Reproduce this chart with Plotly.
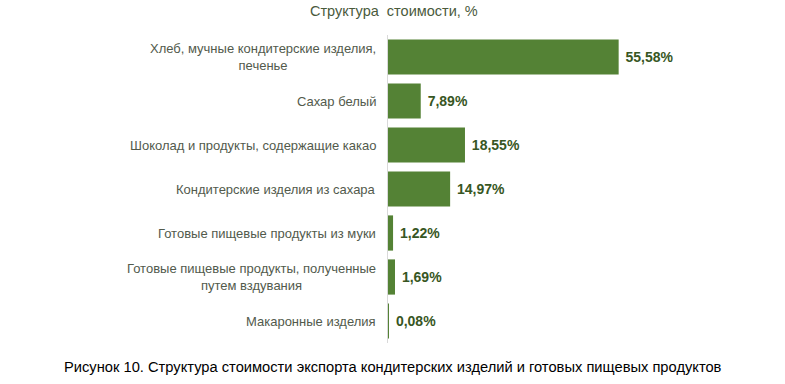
import plotly.graph_objects as go

categories = [
    "Хлеб, мучные кондитерские изделия,<br>печенье",
    "Сахар белый",
    "Шоколад и продукты, содержащие какао",
    "Кондитерские изделия из сахара",
    "Готовые пищевые продукты из муки",
    "Готовые пищевые продукты, полученные<br>путем вздувания",
    "Макаронные изделия",
]
values = [55.58, 7.89, 18.55, 14.97, 1.22, 1.69, 0.08]
value_labels = ["55,58%", "7,89%", "18,55%", "14,97%", "1,22%", "1,69%", "0,08%"]

title_text = "Структура  стоимости, %"
caption_text = "Рисунок 10. Структура стоимости экспорта кондитерских изделий и готовых пищевых продуктов"

W, H = 785, 384
ml, mr, mt, mb = 388, 65, 35, 41
pw, ph = W - ml - mr, H - mt - mb

fig = go.Figure()
fig.add_trace(go.Bar(
    y=categories,
    x=values,
    orientation="h",
    marker=dict(color="#548235", line=dict(width=0)),
    text=value_labels,
    textposition="outside",
    textfont=dict(family="Liberation Sans, Arial", size=14, color="#375623"),
    texttemplate="<b> %{text}</b>",
    cliponaxis=False,
    hoverinfo="skip",
))

annotations = []
for c in categories:
    annotations.append(dict(
        x=0, xref="paper", y=c, yref="y",
        text=c, showarrow=False, xanchor="right", yanchor="middle",
        align="center", xshift=-10,
        font=dict(family="Liberation Sans, Arial", size=13, color="#525a4c"),
    ))
annotations.append(dict(
    x=(394 - ml) / pw, xref="paper", y=1 + (mt - 11) / ph, yref="paper",
    xanchor="center", yanchor="middle",
    text=title_text, showarrow=False,
    font=dict(family="Liberation Sans, Arial", size=14.5, color="#4a5a3c"),
))
annotations.append(dict(
    x=(393 - ml) / pw, xref="paper", y=-(367 - (H - mb)) / ph, yref="paper",
    xanchor="center", yanchor="middle",
    text=caption_text, showarrow=False,
    font=dict(family="Liberation Sans Narrow, Arial Narrow, Liberation Sans", size=14.7, color="#000000"),
))

fig.update_layout(
    width=W, height=H,
    margin=dict(l=ml, r=mr, t=mt, b=mb),
    plot_bgcolor="white", paper_bgcolor="white",
    showlegend=False,
    bargap=0.2,
    xaxis=dict(range=[0, 80], showgrid=False, showticklabels=False, zeroline=False,
               showline=False, ticks=""),
    yaxis=dict(autorange="reversed", showticklabels=False, showgrid=False, zeroline=False,
               showline=True, linecolor="#d9d9d9", linewidth=1, ticks=""),
    annotations=annotations,
)

fig.write_html("out.html",
               config={"displayModeBar": False},
               post_script="document.body.style.margin='0';document.body.style.overflow='hidden';")
